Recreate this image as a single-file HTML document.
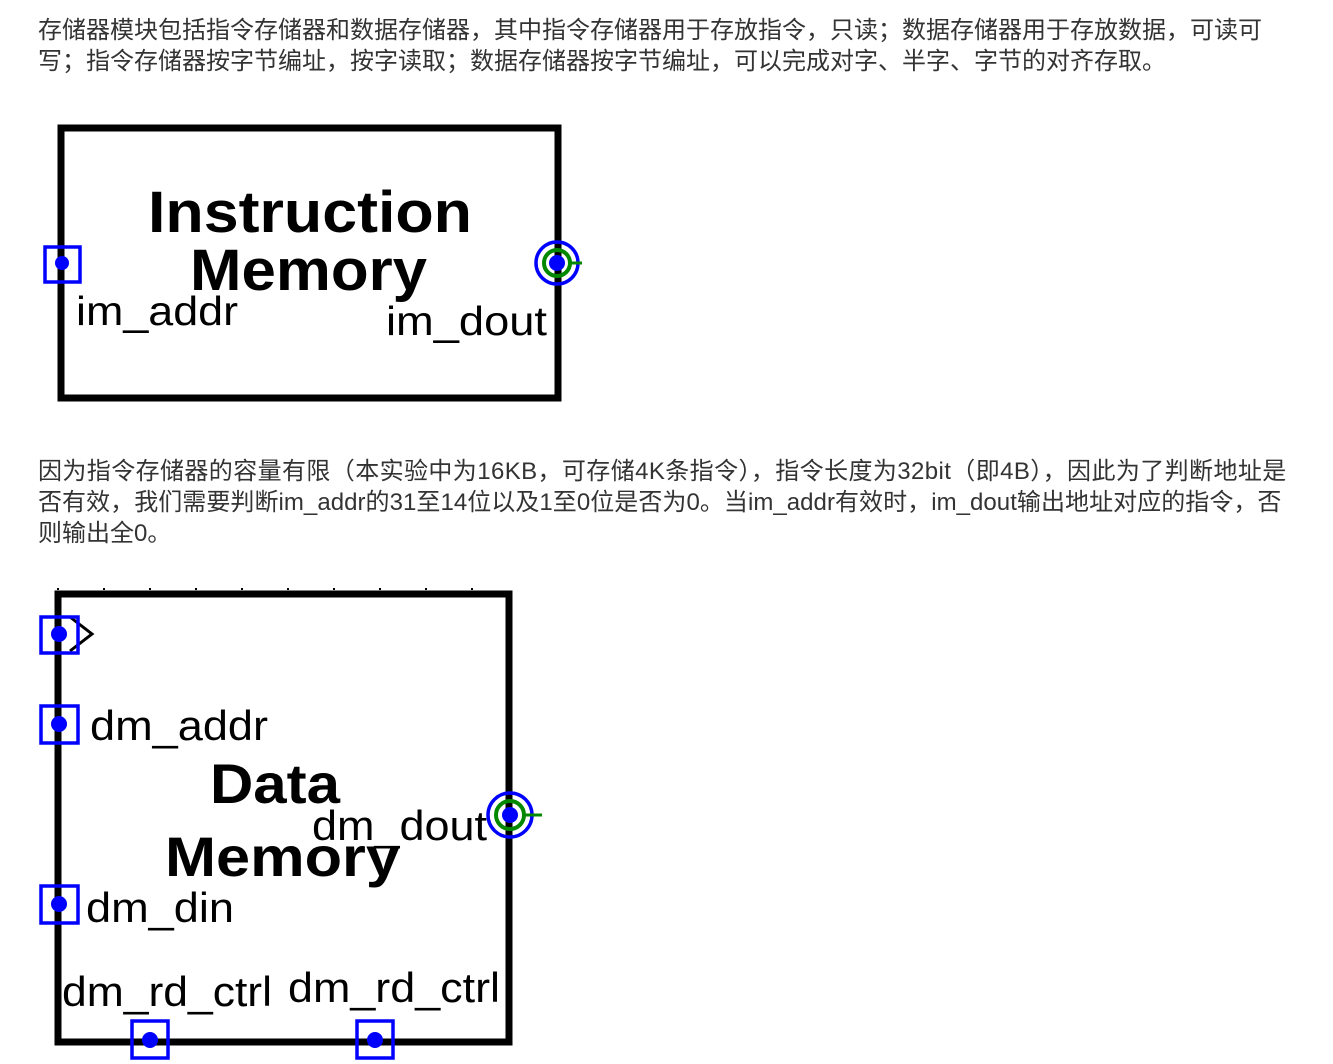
<!DOCTYPE html>
<html><head><meta charset="utf-8"><style>
body{margin:0;width:1333px;height:1064px;background:#fff;position:relative;overflow:hidden}
.p{position:absolute;left:38px;font-family:"Liberation Sans","Noto Sans CJK SC",sans-serif;font-size:24px;color:#333;line-height:31px;white-space:nowrap}
svg{position:absolute;left:0;top:0}
</style></head><body>
<div class="p" style="top:15px">存储器模块包括指令存储器和数据存储器，其中指令存储器用于存放指令，只读；数据存储器用于存放数据，可读可<br>写；指令存储器按字节编址，按字读取；数据存储器按字节编址，可以完成对字、半字、字节的对齐存取。</div>
<div class="p" style="top:456px"><span style="letter-spacing:0.4px">因为指令存储器的容量有限（本实验中为16KB，可存储4K条指令），指令长度为32bit（即4B），因此为了判断地址是</span><br><span style="letter-spacing:0.05px">否有效，我们需要判断im_addr的31至14位以及1至0位是否为0。当im_addr有效时，im_dout输出地址对应的指令，否</span><br>则输出全0。</div>
<svg width="1333" height="1064" font-family="Liberation Sans, Arial, sans-serif">
<rect x="61" y="128" width="497" height="270" fill="none" stroke="#000" stroke-width="7"/>
<text x="148" y="232" font-size="58" font-weight="bold" textLength="324" lengthAdjust="spacingAndGlyphs">Instruction</text>
<text x="190" y="290" font-size="58" font-weight="bold" textLength="237" lengthAdjust="spacingAndGlyphs">Memory</text>
<text x="76" y="325" font-size="41" textLength="162" lengthAdjust="spacingAndGlyphs">im_addr</text>
<text x="386" y="335" font-size="41" textLength="161" lengthAdjust="spacingAndGlyphs">im_dout</text>
<rect x="45" y="247" width="35" height="35" fill="none" stroke="#00f" stroke-width="3.5"/>
<circle cx="62" cy="263" r="7" fill="#00f"/>
<circle cx="557" cy="263" r="21" fill="none" stroke="#00f" stroke-width="3.5"/>
<circle cx="557" cy="263" r="13" fill="none" stroke="#080" stroke-width="4"/>
<line x1="568" y1="263" x2="582" y2="263" stroke="#080" stroke-width="3"/>
<circle cx="557" cy="263" r="8" fill="#00f"/>

<line x1="57" y1="589" x2="512" y2="589" stroke="#000" stroke-width="2" stroke-dasharray="2 44"/>
<rect x="58" y="594" width="451" height="448" fill="none" stroke="#000" stroke-width="7"/>
<polyline points="70,617 92,634 70,651" fill="none" stroke="#000" stroke-width="3"/>
<rect x="41" y="617" width="37" height="36" fill="none" stroke="#00f" stroke-width="3.5"/>
<circle cx="59" cy="634" r="8" fill="#00f"/>
<rect x="41" y="706" width="37" height="37" fill="none" stroke="#00f" stroke-width="3.5"/>
<circle cx="59" cy="724" r="8" fill="#00f"/>
<text x="90" y="740" font-size="42" textLength="178" lengthAdjust="spacingAndGlyphs">dm_addr</text>
<text x="210" y="803" font-size="56" font-weight="bold" textLength="130" lengthAdjust="spacingAndGlyphs">Data</text>
<text x="165" y="876" font-size="56" font-weight="bold" textLength="235" lengthAdjust="spacingAndGlyphs">Memory</text>
<text x="312" y="840" font-size="42" textLength="175" lengthAdjust="spacingAndGlyphs">dm_dout</text>
<circle cx="510" cy="815" r="22" fill="none" stroke="#00f" stroke-width="3.5"/>
<circle cx="510" cy="815" r="14" fill="none" stroke="#080" stroke-width="4"/>
<line x1="522" y1="815" x2="542" y2="815" stroke="#080" stroke-width="3"/>
<circle cx="510" cy="815" r="8" fill="#00f"/>
<rect x="41" y="886" width="37" height="37" fill="none" stroke="#00f" stroke-width="3.5"/>
<circle cx="59" cy="904" r="8" fill="#00f"/>
<text x="86" y="922" font-size="42" textLength="148" lengthAdjust="spacingAndGlyphs">dm_din</text>
<text x="62" y="1006" font-size="42" textLength="210" lengthAdjust="spacingAndGlyphs">dm_rd_ctrl</text>
<text x="288" y="1002" font-size="42" textLength="212" lengthAdjust="spacingAndGlyphs">dm_rd_ctrl</text>
<rect x="132" y="1021" width="36" height="37" fill="none" stroke="#00f" stroke-width="3.5"/>
<circle cx="150" cy="1040" r="8" fill="#00f"/>
<rect x="357" y="1021" width="36" height="37" fill="none" stroke="#00f" stroke-width="3.5"/>
<circle cx="375" cy="1040" r="8" fill="#00f"/>
</svg>
</body></html>
